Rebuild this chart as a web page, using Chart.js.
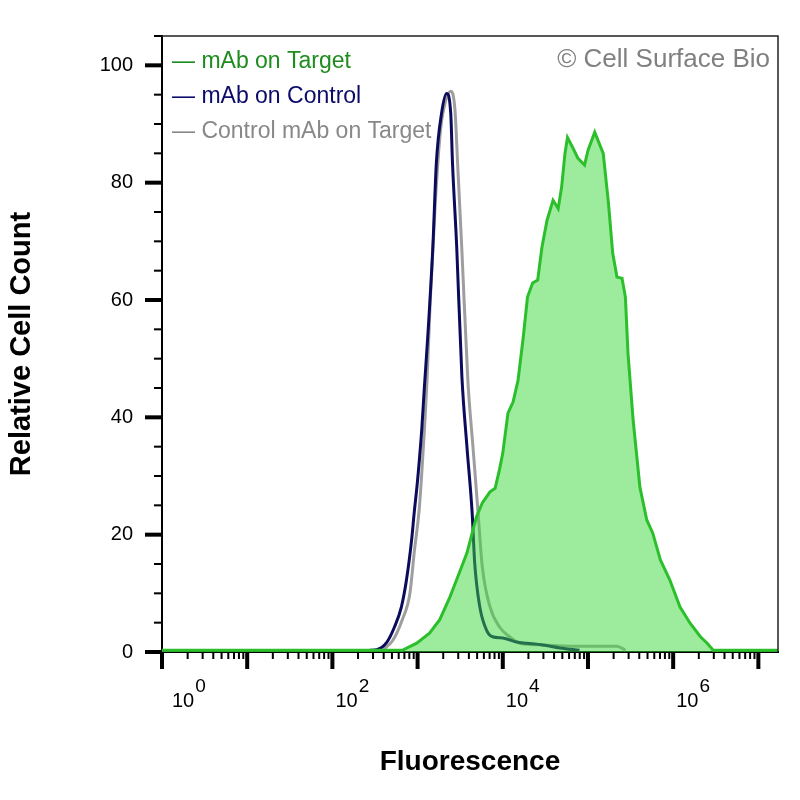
<!DOCTYPE html>
<html>
<head>
<meta charset="utf-8">
<script src="https://cdn.jsdelivr.net/npm/chart.js@4.4.1/dist/chart.umd.min.js"></script>
<style>
  html, body { margin: 0; padding: 0; background: #fff; }
  #wrap { width: 800px; height: 800px; position: relative; }
</style>
</head>
<body>
<div id="wrap"><canvas id="histo"></canvas></div>
<script>
// fluorescence values (x) and relative cell count (y)
const targetX = [1, 661, 977, 1380, 1820, 2400, 3090, 3800, 4470, 4900, 5750, 7080, 8130, 9120, 10000,
	11500, 13200, 15100, 17400, 19500, 22400, 25700, 28800, 33100, 38900, 44700, 49000, 53700, 57500,
	66100, 75900, 91200, 100000, 120000, 151000, 174000, 195000, 219000, 251000, 275000, 295000, 339000,
	407000, 490000, 575000, 708000, 912000, 1200000, 1580000, 2090000, 2510000, 2950000, 17000000];
const targetY = [0.3, 0.3, 1.5, 3.2, 5.5, 9.4, 13.5, 16.9, 20.8, 23, 25.4, 27.3, 27.9, 31, 33.9,
	40.7, 42.6, 46.3, 53.7, 60.5, 62.9, 63.4, 69, 73.6, 77, 75.6, 79.2, 85, 87.7,
	86, 84.2, 83, 85.5, 88.6, 85, 76.5, 68, 63.9, 63.7, 60.5, 50.9, 39.5,
	28.1, 22.5, 20.3, 15.7, 12.3, 7.7, 4.9, 2.6, 1.5, 0.3, 0.3];

const controlX = [275, 331, 437, 537, 646, 741, 851, 912, 1000, 1120, 1200, 1320, 1510, 1660, 1910,
	2190, 2450, 2570, 2880, 3310, 3800, 4370, 4680, 5370, 6460, 7590, 10000, 14500, 19100, 29500, 46800, 79400];
const controlY = [0.3, 0.4, 1.7, 4.3, 7.7, 12.3, 19.1, 23.7, 29.3, 38, 45, 54, 69, 83.3, 91.8,
	95.2, 91.8, 83.3, 69, 47, 34.9, 23.7, 15.2, 7.7, 3.7, 2.6, 2.4, 1.7, 1.5, 1.2, 0.7, 0.3];

const isotypeX = [389, 513, 661, 813, 912, 1050, 1150, 1290, 1410, 1620, 1860, 2140, 2450, 2750, 2950,
	3310, 3890, 4470, 5130, 5750, 7080, 9120, 12000, 15800, 29500, 61700, 219000, 275000];
const isotypeY = [0.3, 2, 5.5, 10, 16.9, 24.7, 33.2, 46.3, 60, 77, 89, 94, 95.6, 92.3, 83.3,
	68.5, 46.3, 34.9, 23.7, 14.5, 7.7, 4.3, 2.6, 1.5, 1.2, 1.0, 1.0, 0.3];

const seriesNames = ["mAb on Target", "mAb on Control", "Control mAb on Target"];
const xTickExponents = [0, 2, 4, 6];
const yTicks = [0, 20, 40, 60, 80, 100];

const FONT = "'Liberation Sans', Arial, sans-serif";

function pts(xs, ys) {
	return xs.map((x, i) => ({ x: x, y: ys[i] }));
}

// ticks, tick labels, frame, legend and copyright
const decor = {
	id: "decor",
	afterDraw(chart) {
		const ctx = chart.ctx;
		const xs = chart.scales.x;
		const ys = chart.scales.y;
		const a = chart.chartArea;
		ctx.save();
		ctx.fillStyle = "#000";

		// x ticks: every decade, plus 2..9 minors
		for (let d = 0; d <= 7; d++) {
			const px = xs.getPixelForValue(Math.pow(10, d));
			ctx.fillRect(px - 2, a.bottom, 4, 17);
			for (let k = 2; k <= 9; k++) {
				const v = k * Math.pow(10, d);
				if (v > xs.max) break;
				const mx = xs.getPixelForValue(v);
				ctx.fillRect(mx - 1, a.bottom, 2, 7);
			}
		}
		// x labels 10^n
		ctx.textBaseline = "alphabetic";
		ctx.textAlign = "left";
		xTickExponents.forEach((e) => {
			const px = xs.getPixelForValue(Math.pow(10, e)) + (e === 0 ? 10 : 3);
			ctx.font = "20px " + FONT;
			ctx.fillText("10", px, 707);
			const w = ctx.measureText("10").width;
			ctx.font = "19px " + FONT;
			ctx.fillText(String(e), px + w + 1, 692);
		});

		// y ticks, major every 20 and minor every 5
		for (let v = 0; v <= 105; v += 5) {
			const py = ys.getPixelForValue(v);
			if (v % 20 === 0) ctx.fillRect(a.left - 17, py - 2, 17, 4);
			else ctx.fillRect(a.left - 8, py - 1, 8, 2);
		}

		// thin frame on top and right
		ctx.strokeStyle = "#222";
		ctx.lineWidth = 1.5;
		ctx.beginPath();
		ctx.moveTo(a.left, a.top);
		ctx.lineTo(a.right, a.top);
		ctx.lineTo(a.right, a.bottom);
		ctx.stroke();

		// legend
		const legendColors = ["#1e8c1e", "#0b0b6a", "#888888"];
		ctx.font = "23px " + FONT;
		seriesNames.forEach((name, i) => {
			ctx.fillStyle = legendColors[i];
			ctx.fillText("\u2014 " + name, a.left + 10, 68 + i * 35);
		});

		// copyright
		ctx.font = "26px " + FONT;
		ctx.fillStyle = "#808080";
		ctx.textAlign = "right";
		ctx.fillText("\u00a9 Cell Surface Bio", a.right - 8, 67);
		ctx.restore();
	},
};

const ctx = document.getElementById("histo").getContext("2d");
const histo = new Chart(ctx, {
	type: "line",
	data: {
		datasets: [
			{
				label: seriesNames[0],
				data: pts(targetX, targetY),
				borderColor: "#2cbf2c",
				backgroundColor: "rgba(60, 215, 60, 0.5)",
				borderWidth: 3,
				fill: "origin",
				tension: 0,
				pointRadius: 0,
			},
			{
				label: seriesNames[1],
				data: pts(controlX, controlY),
				borderColor: "#0b0b5c",
				borderWidth: 3,
				fill: false,
				cubicInterpolationMode: "monotone",
				pointRadius: 0,
			},
			{
				label: seriesNames[2],
				data: pts(isotypeX, isotypeY),
				borderColor: "#9e9e9e",
				borderWidth: 3,
				fill: false,
				cubicInterpolationMode: "monotone",
				pointRadius: 0,
			},
		],
	},
	options: {
		responsive: true,
		maintainAspectRatio: false,
		animation: false,
		layout: { padding: { top: 36, right: 22, left: 0, bottom: 0 } },
		plugins: {
			legend: { display: false },
			tooltip: { enabled: false },
		},
		scales: {
			x: {
				type: "logarithmic",
				min: 1,
				max: 17000000,
				ticks: { display: false },
				grid: { display: false, drawTicks: false },
				border: { display: true, color: "#000", width: 2 },
				title: {
					display: true,
					text: "Fluorescence",
					color: "#000",
					font: { family: FONT, size: 28, weight: "bold" },
					padding: { top: 21, bottom: 21 },
				},
				afterFit(s) {
					s.height = 148;
					s.paddingLeft = 0;
					s.paddingRight = 0;
				},
			},
			y: {
				type: "linear",
				min: 0,
				max: 105,
				afterBuildTicks(s) {
					s.ticks = yTicks.map((v) => ({ value: v }));
				},
				ticks: {
					color: "#000",
					padding: 29,
					font: { family: FONT, size: 20 },
				},
				grid: { display: false, drawTicks: false },
				border: { display: true, color: "#000", width: 2 },
				title: {
					display: true,
					text: "Relative Cell Count",
					color: "#000",
					font: { family: FONT, size: 29, weight: "bold" },
					padding: { top: 5, bottom: 5 },
				},
				afterFit(s) {
					s.width = 162;
					s.paddingTop = 0;
					s.paddingBottom = 0;
				},
			},
		},
	},
	plugins: [decor],
});
</script>
</body>
</html>
